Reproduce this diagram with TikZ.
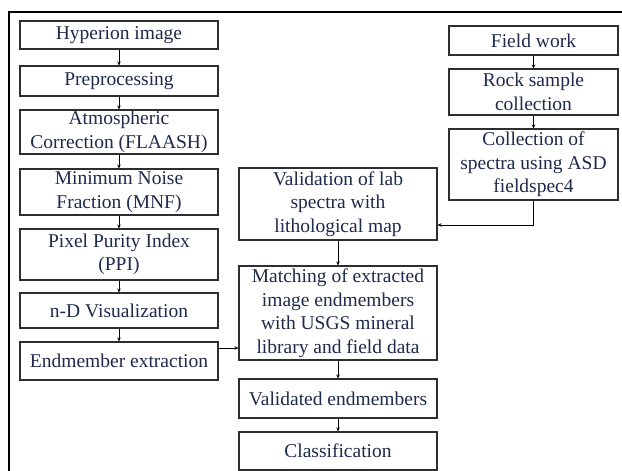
\documentclass[tikz,border=0pt]{standalone}
\usepackage{fontspec}
\setmainfont{LiberationSerif}[Extension=.ttf, UprightFont=*-Regular, BoldFont=*-Bold]
\usetikzlibrary{arrows.meta}
\definecolor{txt}{HTML}{1F2A4C}
\definecolor{bd}{HTML}{2E2E2E}
\tikzset{
  box/.style={draw=bd, line width=1.1pt, fill=white, text=txt, align=center,
    inner sep=0pt, font=\fontsize{19.5}{23.5}\selectfont},
  lbox/.style={box, minimum width=198pt},
  rbox/.style={box, minimum width=169pt},
  arr/.style={-{Stealth[length=4pt,width=3.5pt]}, line width=0.9pt, black}
}
\begin{document}
\begin{tikzpicture}[x=1pt,y=-1pt]
\useasboundingbox (0,0) rectangle (622,471);
\fill[white] (0,0) rectangle (622,471);
\draw[line width=2pt, black] (9,471) -- (9,12) -- (622,12);
% left column
\node[lbox, minimum height=28pt] (h1) at (119,35) {Hyperion image};
\node[lbox, minimum height=30pt] (h2) at (119,81) {Preprocessing};
\node[lbox, minimum height=44pt] (h3) at (119,132) {Atmospheric\\Correction (FLAASH)};
\node[lbox, minimum height=46pt] (h4) at (119,192) {Minimum Noise\\Fraction (MNF)};
\node[lbox, minimum height=51pt] (h5) at (119,254.5) {Pixel Purity Index\\(PPI)};
\node[lbox, minimum height=35pt] (h6) at (119,310.5) {n-D Visualization};
\node[lbox, minimum height=38pt] (h7) at (119,361) {Endmember extraction};
% middle column
\node[lbox, minimum height=72pt] (m1) at (338,204) {Validation of lab\\spectra with\\lithological map};
\node[lbox, minimum height=94pt] (m2) at (338,313) {Matching of extracted\\image endmembers\\with USGS mineral\\library and field data};
\node[lbox, minimum height=39pt] (m3) at (338,398.5) {Validated endmembers};
\node[lbox, minimum height=38pt] (m4) at (338,451) {Classification};
% right column
\node[rbox, minimum height=29pt] (r1) at (533.5,40.5) {Field work};
\node[rbox, minimum height=46pt] (r2) at (533.5,92) {Rock sample\\collection};
\node[rbox, minimum height=71pt] (r3) at (533.5,164.5) {Collection of\\spectra using ASD\\fieldspec4};
% arrows
\draw[arr] (h1) -- (h2);
\draw[arr] (h2) -- (h3);
\draw[arr] (h3) -- (h4);
\draw[arr] (h4) -- (h5);
\draw[arr] (h5) -- (h6);
\draw[arr] (h6) -- (h7);
\draw[arr] (r1) -- (r2);
\draw[arr] (r2) -- (r3);
\coordinate (c1) at (0,225);
\coordinate (c2) at (0,348);
\draw[arr] (r3.south) |- (m1.east |- c1);
\draw[arr] (h7.east |- c2) -- (m2.west |- c2);
\draw[arr] (m1) -- (m2);
\draw[arr] (m2) -- (m3);
\draw[arr] (m3) -- (m4);
\end{tikzpicture}
\end{document}
